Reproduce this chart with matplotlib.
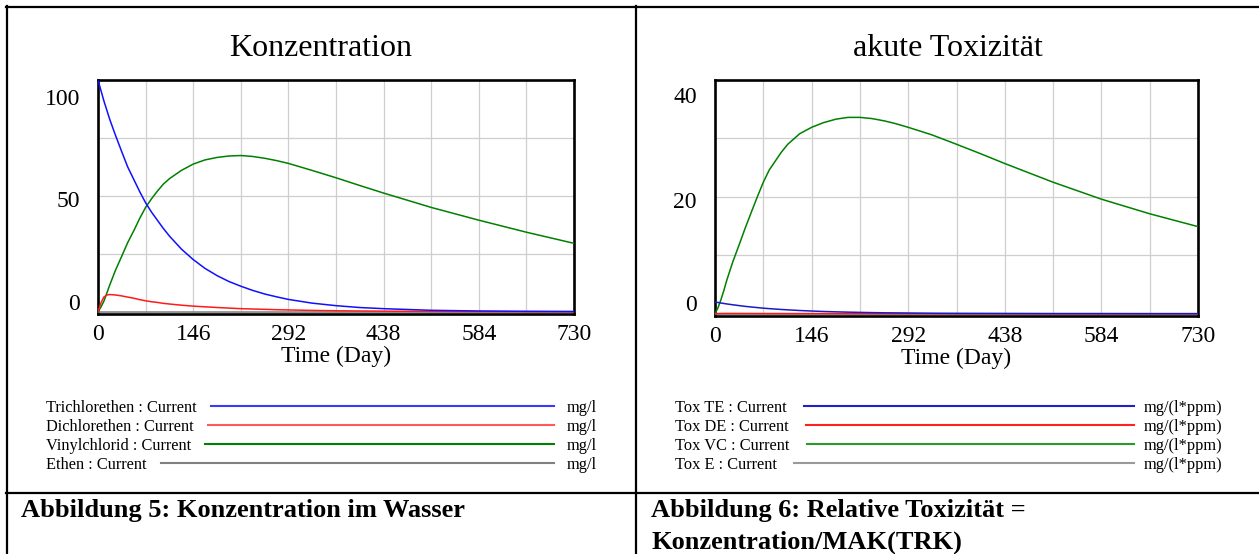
import matplotlib
matplotlib.use("Agg")
import matplotlib.pyplot as plt
from matplotlib.lines import Line2D
from matplotlib.transforms import ScaledTranslation

plt.rcParams['font.family'] = ['Liberation Serif', 'DejaVu Serif']

# --- data ---
days = [0, 4.5, 9, 13.5, 18, 27, 36.5, 45.5, 55, 64, 73, 82, 91, 100, 110,
        128, 146, 164, 183, 201, 219, 237, 256, 274, 292, 328, 365, 401,
        438, 511, 584, 657, 730]

trichlorethen = [100, 95.5, 91, 87, 83, 76, 69, 62.5, 57, 51.8, 47, 43,
                 39.5, 36, 32.5, 27, 22.5, 18.7, 15.5, 13, 11, 9.2, 7.6,
                 6.4, 5.3, 3.7, 2.6, 1.8, 1.3, 0.6, 0.3, 0.15, 0.07]
dichlorethen = [0, 3.8, 6.3, 7.2, 7.4, 7.2, 6.8, 6.3, 5.8, 5.2, 4.7, 4.3,
                4.0, 3.6, 3.3, 2.8, 2.4, 2.1, 1.8, 1.55, 1.3, 1.15, 1.0,
                0.85, 0.75, 0.55, 0.4, 0.3, 0.22, 0.12, 0.06, 0.03, 0.02]
vinylchlorid = [0, 2, 4.5, 8, 11.5, 18, 24, 29.8, 35, 40.3, 45, 48.7, 52,
                55, 57.5, 61, 63.7, 65.5, 66.6, 67.2, 67.4, 67, 66.2, 65.2,
                64, 61, 57.8, 54.5, 51.2, 45, 39.5, 34.3, 29.5]
ethen = [0] * len(days)

tox_te = [2.0, 1.91, 1.82, 1.74, 1.66, 1.52, 1.38, 1.25, 1.14, 1.04, 0.94,
          0.86, 0.79, 0.72, 0.65, 0.54, 0.45, 0.37, 0.31, 0.26, 0.22, 0.18,
          0.15, 0.13, 0.11, 0.07, 0.05, 0.04, 0.03, 0.01, 0.01, 0, 0]
tox_de = [0, 0.02, 0.03, 0.036, 0.037, 0.036, 0.034, 0.032, 0.029, 0.026,
          0.024, 0.022, 0.02, 0.018, 0.017, 0.014, 0.012, 0.01, 0.009,
          0.008, 0.007, 0.006, 0.005, 0.004, 0.004, 0.003, 0.002, 0.002,
          0.001, 0, 0, 0, 0]
tox_vc = [0, 1.0, 2.4, 4.0, 5.8, 8.9, 11.8, 14.6, 17.4, 20.0, 22.5, 24.6,
          26.1, 27.6, 29.0, 30.8, 31.9, 32.7, 33.3, 33.6, 33.6, 33.4, 33.0,
          32.5, 31.9, 30.6, 29.0, 27.4, 25.7, 22.5, 19.6, 17.1, 14.9]
tox_e = [0] * len(days)

x_ticks = [0, 146, 292, 438, 584, 730]
left_yticks = [0, 50, 100]
right_yticks = [0, 20, 40]

left_names = ["Trichlorethen : Current", "Dichlorethen : Current",
              "Vinylchlorid : Current", "Ethen : Current"]
left_units = ["mg/l", "mg/l", "mg/l", "mg/l"]
right_names = ["Tox TE : Current", "Tox DE : Current",
               "Tox VC : Current", "Tox E : Current"]
right_units = ["mg/(l*ppm)"] * 4

BLUE = "#1010ff"
RED = "#ff1a1a"
GREEN = "#008000"
GREY = "#808080"

W, H = 1259, 554
fig = plt.figure(figsize=(W / 100, H / 100), dpi=100)


def px(x, y):
    '''pixel position (from top left) -> figure fraction'''
    return x / W, 1 - y / H


def hline(x0, x1, y, **kw):
    a, b = px(x0, y)
    c, d = px(x1, y)
    fig.add_artist(Line2D([a, c], [b, d], transform=fig.transFigure, **kw))


def vline(x, y0, y1, **kw):
    a, b = px(x, y0)
    c, d = px(x, y1)
    fig.add_artist(Line2D([a, c], [b, d], transform=fig.transFigure, **kw))


def panel(rect, series, ymax, yticks, shifts):
    x0, top, x1, bottom = rect
    ax = fig.add_axes([x0 / W, 1 - bottom / H, (x1 - x0) / W, (bottom - top) / H])
    for vals, col in series:
        ax.plot(days, vals, color=col, lw=1.1, zorder=3)
    ax.set_xlim(0, 730)
    ax.set_ylim(-0.01 * ymax, ymax)
    ax.set_xticks(x_ticks)
    ax.set_xticks([73 * i for i in range(1, 10, 2)], minor=True)
    ax.set_yticks(yticks)
    ax.set_yticks([ymax / 4, 3 * ymax / 4], minor=True)
    ax.set_xticklabels([str(t) for t in x_ticks])
    ax.set_yticklabels([str(t) for t in yticks])
    ax.grid(True, which='both', color='#cfcfcf', lw=0.9)
    ax.tick_params(which='both', length=0)
    ax.tick_params(axis='x', labelsize=17, pad=7)
    ax.tick_params(axis='y', labelsize=17, pad=13)
    for s in ax.spines.values():
        s.set_linewidth(1.9)
        s.set_zorder(2.5)
    ax.set_xlabel("Time (Day)", fontsize=17, labelpad=1)
    for lab, dy in zip(ax.get_yticklabels(), shifts):
        lab.set_transform(lab.get_transform() +
                          ScaledTranslation(0, -dy / 100, fig.dpi_scale_trans))
    return ax


panel((98, 80, 574, 314),
      [(ethen, GREY), (vinylchlorid, GREEN), (dichlorethen, RED), (trichlorethen, BLUE)],
      100, left_yticks, [-10, 3, 17])
panel((715, 80, 1198, 316),
      [(tox_e, GREY), (tox_vc, GREEN), (tox_de, RED), (tox_te, "#1a1acc")],
      40, right_yticks, [-11, 3, 15])

fig.text(*px(321, 56), "Konzentration", fontsize=23, ha='center', va='baseline')
fig.text(*px(948, 56), "akute Toxizität", fontsize=23, ha='center', va='baseline')

# legends below the plots
renderer = fig.canvas.get_renderer()
rows = [406, 425, 444, 463]


def legend(x_text, x_end, x_unit, names, units, colours, gap):
    for y, name, unit, col in zip(rows, names, units, colours):
        t = fig.text(*px(x_text, y + 6), name, fontsize=11.8, va='baseline')
        xe = t.get_window_extent(renderer).x1
        hline(xe + gap, x_end, y, color=col, lw=1.5)
        fig.text(*px(x_unit, y + 6), unit, fontsize=11.8, va='baseline')


legend(46, 554, 567, left_names, left_units, ["#3a3aff", "#ff5a5a", GREEN, GREY], 14)
legend(675, 1134, 1144, right_names, right_units, ["#2020c8", "#ff2020", "#2a9a2a", "#9a9a9a"], 17)

# captions
fig.text(*px(21, 517), "Abbildung 5: Konzentration im Wasser",
         fontsize=19, fontweight='bold', va='baseline')
fig.text(*px(651, 517), "Abbildung 6: Relative Toxizität =",
         fontsize=19, fontweight='bold', va='baseline')
fig.text(*px(651, 549), "Konzentration/MAK(TRK)",
         fontsize=19, fontweight='bold', va='baseline')

# table frame
hline(6, W, 7, color='black', lw=1.6)
hline(6, W, 493, color='black', lw=1.6)
vline(7, 6, H, color='black', lw=1.6)
vline(636, 6, H, color='black', lw=1.6)

fig.savefig("out.png", dpi=100)
